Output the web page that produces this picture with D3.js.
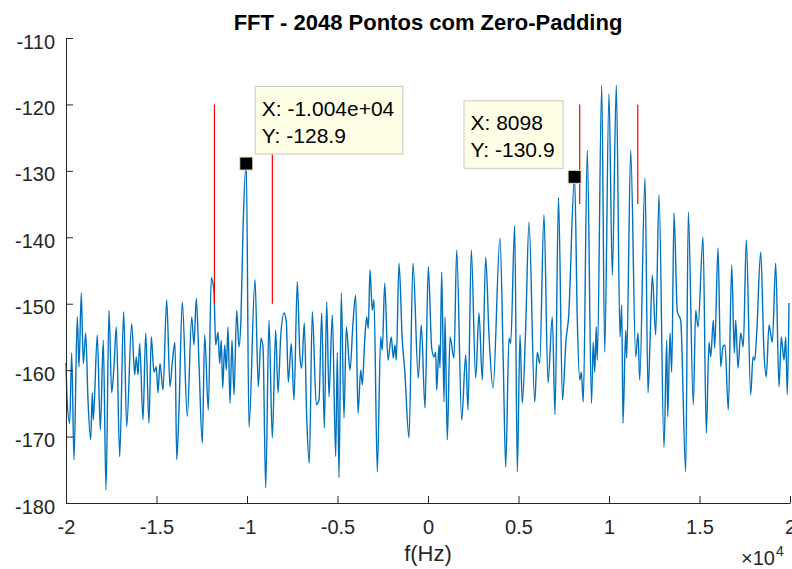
<!DOCTYPE html>
<html>
<head>
<meta charset="utf-8">
<script src="https://cdn.jsdelivr.net/npm/d3@7"></script>
<style>
  html, body { margin: 0; padding: 0; background: #fff; }
  svg { display: block; font-family: "Liberation Sans", Arial, Helvetica, sans-serif; }
</style>
</head>
<body>
<svg id="chart" width="792" height="569"></svg>
<script>
// ---- data ----
const freqHz = [
  -20000,-19945,-19796,-19686,-19559,-19376,-19282,-19155,-19045,-18912,
  -18785,-18636,-18547,-18492,-18271,-18105,-17940,-17791,-17625,-17476,
  -17349,-17221,-17034,-16813,-16647,-16371,-16205,-16116,-16023,-15929,
  -15746,-15597,-15415,-15288,-15139,-15011,-14918,-14807,-14641,-14437,
  -14255,-14127,-13978,-13884,-13757,-13575,-13299,-13056,-12929,-12801,
  -12652,-12470,-12337,-12138,-11973,-11824,-11730,-11603,-11509,-11420,
  -11343,-11232,-11144,-11050,-10940,-10829,-10719,-10569,-10442,-10332,
  -10221,-10040,-9890,-9558,-9376,-9227,-9116,-8967,-8785,-8602,
  -8415,-8288,-8138,-7956,-7829,-7718,-7553,-7404,-7221,-7072,
  -6978,-6834,-6702,-6558,-6392,-6171,-6022,-5873,-5729,-5597,
  -5470,-5287,-5100,-5011,-4917,-4790,-4641,-4514,-4310,-4144,
  -3995,-3868,-3718,-3630,-3497,-3387,-3298,-3205,-3077,-2984,
  -2801,-2613,-2525,-2392,-2210,-2028,-1917,-1823,-1751,-1602,
  -1420,-1287,-1050,-829,-536,-370,-166,17,204,332,
  425,481,608,663,757,884,939,1066,1216,1437,
  1586,1862,2083,2210,2392,2635,2818,3000,3188,3370,
  3591,3978,4160,4293,4475,4569,4790,4934,5083,5210,
  5398,5580,5895,6039,6171,6409,6630,6868,7017,7210,
  7431,7625,7763,8098,8249,8381,8470,8580,8801,9033,
  9127,9210,9299,9354,9597,9763,10000,10183,10404,10608,
  10702,10774,10923,10978,11199,11475,11603,11696,11989,12155,
  12266,12393,12580,12763,13039,13188,13243,13371,13464,13592,
  13774,13962,14238,14382,14658,14790,14918,15194,15376,15525,
  15619,15763,15840,16023,16172,16299,16409,16592,16779,16923,
  17000,17128,17277,17420,17586,17829,17956,18050,18161,18382,
  18564,18691,18840,19023,19210,19393,19520,19669,19763,19851,
  19945
];
const magDb = [
  -158.9,-164,-168,-157.4,-173.5,-152,-159.5,-148.4,-159,-154.4,
  -164.5,-170.5,-163.4,-167.5,-154.7,-169,-155.5,-178,-151,-163.4,
  -159.5,-153.5,-173,-151.2,-168.5,-153,-160.7,-158,-160.7,-156,
  -167.5,-154.4,-168,-155,-160.3,-159.5,-163.4,-159,-163,-149.4,
  -162.5,-158.8,-155.8,-173.5,-166,-149.7,-167,-152,-156.2,-149.2,
  -159,-171,-154.7,-166,-146.1,-148.2,-156.2,-154.3,-159,-155.5,
  -162.7,-156.2,-160,-153.5,-165,-155.5,-163.7,-151,-156.5,-152,
  -139,-128.9,-168.6,-146.4,-162.5,-155.2,-156.5,-177.7,-152.5,-170.2,
  -154,-163.4,-155,-151.4,-152.7,-161.8,-156,-164.5,-146.7,-158.2,
  -159.7,-152.9,-167,-174,-151.2,-165.2,-164.5,-151.4,-168.7,-149.7,
  -164,-151.7,-173,-157.3,-176.2,-148.4,-167.2,-153.5,-160,-152.9,
  -148.7,-166.5,-160,-162.2,-155.5,-152,-153.7,-144.9,-151,-149.4,
  -175.3,-155,-157,-146.9,-158.5,-155,-158.2,-156.2,-158.5,-143.9,
  -155.5,-160,-170.2,-143.9,-161.2,-153.2,-165.7,-144.4,-156.7,-158,
  -157.3,-163,-156.2,-159.7,-145.2,-164.8,-152,-170.5,-155,-158.2,
  -141.9,-167.5,-157.7,-166,-141.9,-161.2,-151.4,-161.5,-143,-154.7,
  -162.7,-140.1,-159,-174.6,-155.2,-156,-138.2,-175.3,-154.7,-165,
  -153.5,-137.7,-164.8,-157.3,-159,-136.6,-161.9,-152,-166.7,-134,
  -164.5,-155.5,-152.2,-130.9,-152.5,-161.5,-160.3,-164.8,-126.9,-165,
  -155.8,-160.3,-153.5,-158.5,-117.1,-157.3,-118.4,-145.7,-117.1,-155,
  -150.2,-168,-154,-158.2,-126.9,-158,-154.4,-161.5,-131.1,-163.4,
  -155.8,-145.7,-154.7,-133.6,-171.6,-155.5,-167,-154.4,-160.3,-136.3,
  -151.2,-152.5,-175.3,-136.2,-165.2,-151,-153.5,-140,-169.5,-155.8,
  -158,-152.5,-156.7,-141.6,-159.5,-156.5,-156.2,-166,-144.2,-157.4,
  -152.5,-159.7,-154.4,-156.5,-140.4,-163.7,-158,-158.5,-154.4,-142.2,
  -157.4,-161,-153.2,-155.8,-143.9,-162.5,-155,-158.5,-155,-163.7,
  -149.9
];
const xTicks = [-20000,-15000,-10000,-5000,0,5000,10000,15000,20000];
const xTickLabels = ["-2","-1.5","-1","-0.5","0","0.5","1","1.5","2"];
const yTicks = [-180,-170,-160,-150,-140,-130,-120,-110];
const yTickLabels = ["-180","-170","-160","-150","-140","-130","-120","-110"];
const redX = [-11800,-8600,8380,11590];
const redTop = [-120,-120,-120,-120];
const redBottom = [-150,-150,-135,-135];
const tipX = [-10040, 8098];
const tipY = [-128.9, -130.9];
const tipLines = [["X: -1.004e+04","Y: -128.9"],["X: 8098","Y: -130.9"]];
const tipSide = ["right","left"];
const titleText = "FFT - 2048 Pontos com Zero-Padding";
const xLabelText = "f(Hz)";

// ---- drawing ----
const svg = d3.select("#chart");
const x = d3.scaleLinear().domain([-20000,20000]).range([66,790]);
const y = d3.scaleLinear().domain([-180,-110]).range([503,38]);
const axisColor = "#262626";

svg.append("rect").attr("width",792).attr("height",569).attr("fill","#fff");

const pts = freqHz.map((f,i)=>[f,magDb[i]]);
const line = d3.line().x(d=>x(d[0])).y(d=>y(d[1])).curve(d3.curveMonotoneX);
svg.append("path").datum(pts)
  .attr("d",line).attr("fill","none")
  .attr("stroke","#0072BD").attr("stroke-width",1.4)
  .attr("stroke-linejoin","round");

// red marker lines
svg.selectAll("line.red").data(redX).join("line").attr("class","red")
  .attr("x1",d=>x(d)).attr("x2",d=>x(d))
  .attr("y1",(d,i)=>y(redTop[i])).attr("y2",(d,i)=>y(redBottom[i]))
  .attr("stroke","#FF0000").attr("stroke-width",1.2);

// axes
const gx = svg.append("g").attr("transform","translate(0,503)")
  .call(d3.axisBottom(x).tickValues(xTicks).tickFormat((d,i)=>xTickLabels[i])
    .tickSizeInner(-7).tickSizeOuter(0).tickPadding(17));
const gy = svg.append("g").attr("transform","translate(66,0)")
  .call(d3.axisLeft(y).tickValues(yTicks).tickFormat((d,i)=>yTickLabels[i])
    .tickSizeInner(-7).tickSizeOuter(0).tickPadding(11));
[gx,gy].forEach(g=>{
  g.select(".domain").attr("stroke",axisColor);
  g.selectAll(".tick line").attr("stroke",axisColor);
  g.selectAll(".tick text").attr("fill",axisColor)
    .style("font-size","20px").style("font-family",'"Liberation Sans", Arial, sans-serif');
});
gy.selectAll(".tick text").attr("dy","0.5em");

// title & labels
svg.append("text").attr("x",428).attr("y",30).attr("text-anchor","middle")
  .style("font-size","22px").style("font-weight","bold").attr("fill","#000")
  .text(titleText);
svg.append("text").attr("x",428).attr("y",561).attr("text-anchor","middle")
  .style("font-size","22px").attr("fill",axisColor).text(xLabelText);
svg.append("text").attr("x",775).attr("y",565).attr("text-anchor","end")
  .style("font-size","20px").attr("fill",axisColor).text("\u00D710");
svg.append("text").attr("x",776).attr("y",556)
  .style("font-size","14px").attr("fill",axisColor).text("4");

// data tips
tipX.forEach((fx,i)=>{
  const mx = x(fx), my = y(tipY[i]);
  const g = svg.append("g");
  const box = g.append("rect");
  const t1 = g.append("text").style("font-size","21px").attr("fill","#000").text(tipLines[i][0]);
  const t2 = g.append("text").style("font-size","21px").attr("fill","#000").text(tipLines[i][1]);
  const w = Math.max(t1.node().getComputedTextLength(), t2.node().getComputedTextLength()) + 15;
  const h = 67.5;
  let bx, by;
  if (tipSide[i] === "right") { bx = mx + 9; by = my - 9.5 - h; }
  else { bx = mx - 11.5 - w; by = my - 8.5 - h; }
  box.attr("x",bx).attr("y",by).attr("width",w).attr("height",h)
    .attr("fill","#FFFFE6").attr("stroke","#c8c8c8").attr("stroke-width",1);
  t1.attr("x",bx+6.5).attr("y",by+29.5);
  t2.attr("x",bx+6.5).attr("y",by+56.5);
  svg.append("rect").attr("x",mx-6.5).attr("y",my-6.5).attr("width",13).attr("height",13)
    .attr("fill","#000").attr("stroke","#e6e6b4").attr("stroke-width",1);
});
</script>
</body>
</html>
